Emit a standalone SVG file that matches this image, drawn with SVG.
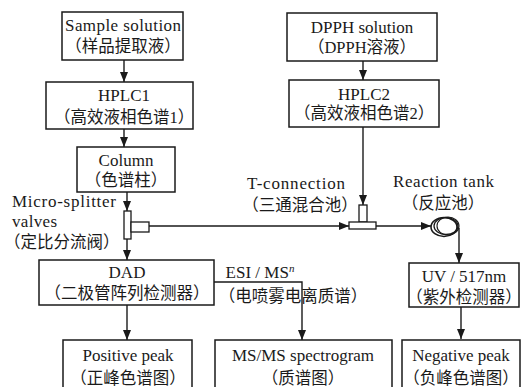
<svg xmlns="http://www.w3.org/2000/svg" width="521" height="387" viewBox="0 0 521 387">
<style>
.box{fill:none;stroke:#1a1a1a;stroke-width:1.5}
.part{fill:#fff;stroke:#1a1a1a;stroke-width:1.3}
.ln{fill:none;stroke:#1a1a1a;stroke-width:1.4}
.coil{fill:none;stroke:#1a1a1a}
text{font-size:17px;fill:#1a1a1a;text-anchor:middle}
text.c{font-size:16.5px}
text.l{text-anchor:start}
</style>
<defs>
<marker id="ah" markerUnits="userSpaceOnUse" markerWidth="10" markerHeight="8" refX="10" refY="4" orient="auto">
<path d="M0,0 L10,4 L0,8 z" fill="#1a1a1a"/>
</marker>
</defs>
<rect width="521" height="387" fill="#fff"/>
<g font-family="'Liberation Serif', 'Noto Sans CJK SC', serif">
<g id="connectors">
<line class="ln" x1="124" y1="60" x2="124" y2="82" marker-end="url(#ah)"/>
<line class="ln" x1="124" y1="129" x2="124" y2="147" marker-end="url(#ah)"/>
<line class="ln" x1="127" y1="192" x2="127" y2="211" marker-end="url(#ah)"/>
<line class="ln" x1="127" y1="239" x2="127" y2="260" marker-end="url(#ah)"/>
<line class="ln" x1="149" y1="226" x2="349" y2="226" marker-end="url(#ah)"/>
<line class="ln" x1="363" y1="61" x2="363" y2="80" marker-end="url(#ah)"/>
<line class="ln" x1="363" y1="127" x2="363" y2="205" marker-end="url(#ah)"/>
<line class="ln" x1="376" y1="226" x2="431" y2="226" marker-end="url(#ah)"/>
<polyline class="ln" points="459,228 459,263" marker-end="url(#ah)"/>
<line class="ln" x1="461" y1="307" x2="461" y2="339" marker-end="url(#ah)"/>
<line class="ln" x1="127" y1="305" x2="127" y2="340" marker-end="url(#ah)"/>
<polyline class="ln" points="214,282 302,282 302,340" marker-end="url(#ah)"/>
</g>
<g id="sample">
<rect class="box" x="62" y="12" width="121" height="48"/>
<text x="123" y="31" textLength="116">Sample solution</text>
<text class="c" x="123" y="52">（样品提取液）</text>
</g>
<g id="hplc1">
<rect class="box" x="46" y="82" width="147" height="47"/>
<text x="124" y="101">HPLC1</text>
<text class="c" x="124" y="123">（高效液相色谱1）</text>
</g>
<g id="column">
<rect class="box" x="77" y="147" width="98" height="45"/>
<text x="126" y="166">Column</text>
<text class="c" x="126" y="186">（色谱柱）</text>
</g>
<g id="dpph">
<rect class="box" x="287" y="13" width="150" height="48"/>
<text x="362" y="33">DPPH solution</text>
<text class="c" x="362" y="53">（DPPH溶液）</text>
</g>
<g id="hplc2">
<rect class="box" x="289" y="80" width="150" height="47"/>
<text x="364" y="100">HPLC2</text>
<text class="c" x="364" y="119">（高效液相色谱2）</text>
</g>
<g id="splitter">
<rect class="part" x="124" y="211" width="7" height="28"/>
<rect class="part" x="131" y="222" width="18" height="10"/>
<text class="l" x="12" y="207" textLength="104">Micro-splitter</text>
<text class="l" x="12" y="227" textLength="45">valves</text>
<text class="c l" x="4" y="248">（定比分流阀）</text>
</g>
<g id="tconnection">
<rect class="part" x="359" y="205" width="8" height="17"/>
<rect class="part" x="349" y="222" width="27" height="7"/>
<text class="l" x="247" y="189" textLength="98">T-connection</text>
<text class="c" x="300" y="211">（三通混合池）</text>
</g>
<g id="reaction">
<ellipse class="coil" cx="444" cy="227" rx="13" ry="9.5" stroke-width="1.6"/>
<ellipse class="coil" cx="446" cy="226" rx="12" ry="8.5" stroke-width="1.3"/>
<ellipse class="coil" cx="448" cy="226" rx="11" ry="9" stroke-width="1.1"/>
<text class="l" x="393" y="187" textLength="101">Reaction tank</text>
<text class="c" x="443" y="209">（反应池）</text>
</g>
<g id="dad">
<rect class="box" x="39" y="260" width="175" height="45"/>
<text x="127" y="278">DAD</text>
<text class="c" x="127" y="299">（二极管阵列检测器）</text>
</g>
<g id="esi">
<text x="260" y="278">ESI / MS<tspan font-size="11" font-style="italic" dy="-6">n</tspan></text>
<text class="c" x="293" y="302">（电喷雾电离质谱）</text>
</g>
<g id="uv">
<rect class="box" x="409" y="263" width="110" height="44"/>
<text x="464" y="282">UV / 517nm</text>
<text class="c" x="464" y="303">（紫外检测器）</text>
</g>
<g id="positive">
<rect class="box" x="63" y="340" width="129" height="52"/>
<text x="128" y="361">Positive peak</text>
<text class="c" x="128" y="384">（正峰色谱图）</text>
</g>
<g id="msms">
<rect class="box" x="215" y="340" width="177" height="52"/>
<text x="303" y="361">MS/MS spectrogram</text>
<text class="c" x="303" y="384">（质谱图）</text>
</g>
<g id="negative">
<rect class="box" x="402" y="340" width="118" height="52"/>
<text x="461" y="361">Negative peak</text>
<text class="c" x="461" y="384">（负峰色谱图）</text>
</g>
</g>
</svg>
